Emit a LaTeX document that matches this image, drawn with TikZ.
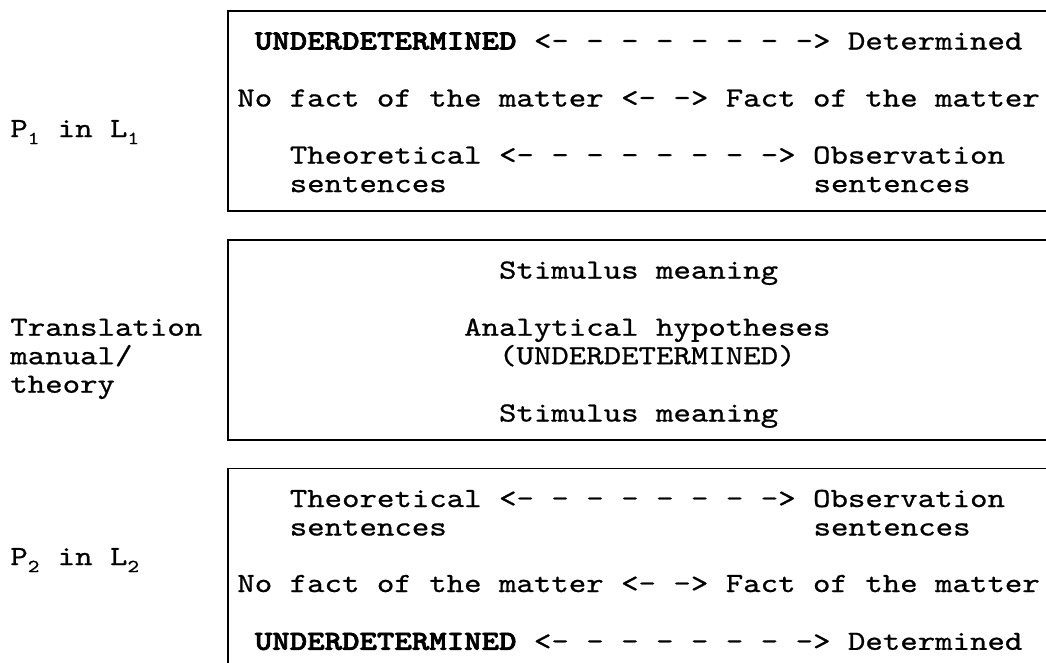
\documentclass[tikz,border=0pt]{standalone}
\usepackage{fontspec}
\usepackage{tikz}
\usetikzlibrary{positioning}
\newfontfamily\typerfont{lmmono10-regular.otf}[FakeStretch=1.2, FakeBold=0.8,
  BoldFont=lmmonolt10-bold.otf, BoldFeatures={FakeBold=2.5}]
\newcommand{\lowidx}[1]{\raisebox{-0.6ex}{\makebox[0.45em][l]{\fontsize{10.5}{10.5}\selectfont#1}}}

\begin{document}
\begin{tikzpicture}[
  x=0.02cm, y=-0.02cm,
  every node/.style={font=\typerfont\fontsize{15.76}{16.22}\selectfont, inner sep=0pt},
  rowtext/.style={anchor=base west},
  midtext/.style={anchor=base},
  framebox/.style={line width=1.1pt}
]
\useasboundingbox (0,0) rectangle (1046,663);

% Frames (open to the right)
\draw[framebox] (1046,10.6) -- (228,10.6) -- (228,210.6) -- (1046,210.6);
\draw[framebox] (1046,240) -- (228,240) -- (228,440) -- (1046,440);
\draw[framebox] (1046,468.5) -- (228,468.5) -- (228,663);

% Upper language
\node[rowtext] (lang1) at (10,137) {P\lowidx{1} in L\lowidx{1}};
\node[rowtext] (under1) at (254.5,49.5) {\textbf{UNDERDETERMINED} <- - - - - - - -> Determined};
\node[rowtext] (fact1) at (237,106.5) {No fact of the matter <- -> Fact of the matter};
\node[rowtext] (theo1) at (289.4,163.6) {Theoretical <- - - - - - - -> Observation};
\node[rowtext] (sentL1) at (289.4,192.1) {sentences};
\node[rowtext] (sentR1) at (813.2,192.1) {sentences};

% Translation manual
\node[rowtext] (transl) at (10,335.7) {Translation};
\node[rowtext] (manual) at (10,364.2) {manual/};
\node[rowtext] (theory) at (10,392.7) {theory};
\node[midtext] (stim1) at (638.6,278.6) {Stimulus meaning};
\node[midtext] (anahyp) at (647.3,335.7) {Analytical hypotheses};
\node[midtext] (anaund) at (647.3,364.2) {(UNDERDETERMINED)};
\node[midtext] (stim2) at (638.6,421.5) {Stimulus meaning};

% Lower language
\node[rowtext] (lang2) at (10,565) {P\lowidx{2} in L\lowidx{2}};
\node[rowtext] (theo2) at (289.4,507) {Theoretical <- - - - - - - -> Observation};
\node[rowtext] (sentL2) at (289.4,535.5) {sentences};
\node[rowtext] (sentR2) at (813.2,535.5) {sentences};
\node[rowtext] (fact2) at (237,592) {No fact of the matter <- -> Fact of the matter};
\node[rowtext] (under2) at (254.5,649.8) {\textbf{UNDERDETERMINED} <- - - - - - - -> Determined};

\end{tikzpicture}
\end{document}
